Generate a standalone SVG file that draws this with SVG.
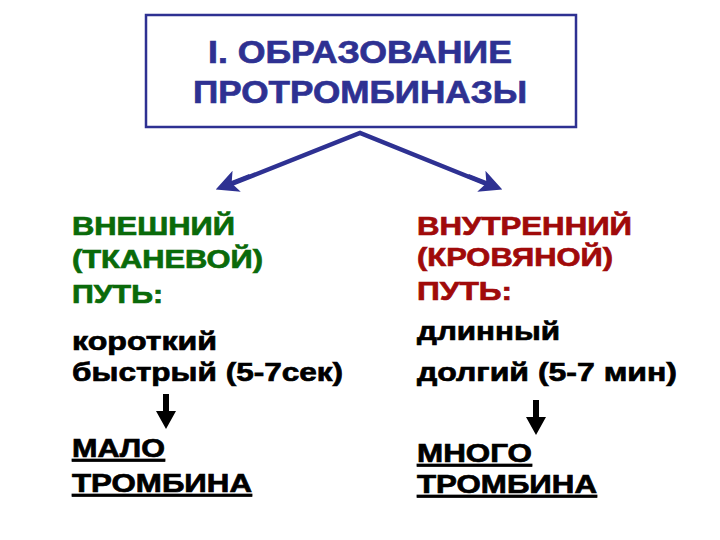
<svg xmlns="http://www.w3.org/2000/svg" width="720" height="540" viewBox="0 0 720 540">
<style>
text{font-family:"Liberation Sans",Arial,sans-serif;font-weight:bold;stroke-width:0.7px;}
.t{fill:#2E3192;stroke:#2E3192;font-size:32px;}
.g{fill:#0A6A0A;stroke:#0A6A0A;font-size:26px;}
.r{fill:#A00A0A;stroke:#A00A0A;font-size:26px;}
.b{fill:#000;stroke:#000;font-size:26px;}
.u{fill:#000;stroke:#000;font-size:26px;text-decoration:underline;}
</style>
<defs>
<marker id="ah" markerWidth="5" markerHeight="5" refX="3.5" refY="2.5" orient="auto" markerUnits="strokeWidth">
<path d="M0,0 L5,2.5 L0,5 L1.2,2.5 Z" fill="#2E3192"/>
</marker>
</defs>
<rect width="720" height="540" fill="#fff"/>
<g id="title">
<rect x="146" y="15" width="430" height="112" fill="#fff" stroke="#2E3192" stroke-width="2.5"/>
<text class="t" x="208" y="63" textLength="304" lengthAdjust="spacingAndGlyphs">I. ОБРАЗОВАНИЕ</text>
<text class="t" x="193" y="103" textLength="334" lengthAdjust="spacingAndGlyphs">ПРОТРОМБИНАЗЫ</text>
</g>
<g id="connectors" fill="none" stroke="#2E3192" stroke-width="4.5" stroke-linejoin="miter">
<path d="M224,187 L360,133 L494,187" fill="none"/>
<path d="M250,176 L222,187" marker-end="url(#ah)"/>
<path d="M468,176 L496,187" marker-end="url(#ah)"/>
</g>
<g id="left">
<text class="g" x="72" y="235" textLength="163" lengthAdjust="spacingAndGlyphs">ВНЕШНИЙ</text>
<text class="g" x="72" y="268" textLength="191" lengthAdjust="spacingAndGlyphs">(ТКАНЕВОЙ)</text>
<text class="g" x="72" y="303" textLength="91" lengthAdjust="spacingAndGlyphs">ПУТЬ:</text>
<text class="b" x="72" y="350" textLength="145" lengthAdjust="spacingAndGlyphs">короткий</text>
<text class="b" x="72" y="381" textLength="271" lengthAdjust="spacingAndGlyphs">быстрый (5-7сек)</text>
<text class="u" x="72" y="457" textLength="93" lengthAdjust="spacingAndGlyphs">МАЛО</text>
<text class="u" x="72" y="492" textLength="180" lengthAdjust="spacingAndGlyphs">ТРОМБИНА</text>
</g>
<g id="right">
<text class="r" x="417" y="235" textLength="215" lengthAdjust="spacingAndGlyphs">ВНУТРЕННИЙ</text>
<text class="r" x="417" y="266" textLength="196" lengthAdjust="spacingAndGlyphs">(КРОВЯНОЙ)</text>
<text class="r" x="417" y="300" textLength="95" lengthAdjust="spacingAndGlyphs">ПУТЬ:</text>
<text class="b" x="417" y="340" textLength="143" lengthAdjust="spacingAndGlyphs">длинный</text>
<text class="b" x="417" y="381" textLength="260" lengthAdjust="spacingAndGlyphs">долгий (5-7 мин)</text>
<text class="u" x="417" y="462" textLength="115" lengthAdjust="spacingAndGlyphs">МНОГО</text>
<text class="u" x="417" y="493" textLength="180" lengthAdjust="spacingAndGlyphs">ТРОМБИНА</text>
</g>
<g id="down-arrows" fill="#000">
<path d="M163,394 H169 V411 H176 L166,429 L156,411 H163 Z"/>
<path d="M533,400 H539 V417 H546 L536,435 L526,417 H533 Z"/>
</g>
</svg>
